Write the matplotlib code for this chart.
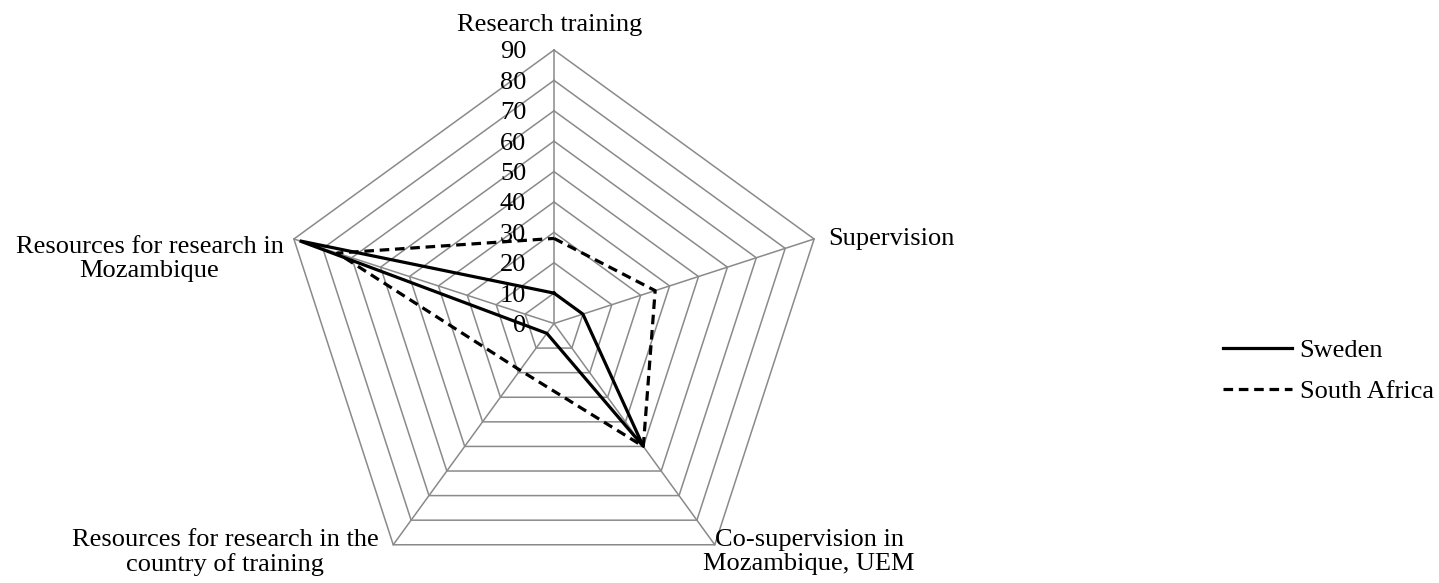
import numpy as np
import matplotlib
matplotlib.use("Agg")
import matplotlib.pyplot as plt

plt.rcParams['font.family'] = ['Liberation Serif', 'DejaVu Serif']
plt.rcParams['font.size'] = 19

categories = ["Research training", "Supervision", "Co-supervision in\nMozambique, UEM",
              "Resources for research in the\ncountry of training",
              "Resources for research in\nMozambique"]
sweden = [10, 10, 50, 4, 88]
south_africa = [28, 35, 50, 19, 75]
ring_values = [0, 10, 20, 30, 40, 50, 60, 70, 80, 90]
ring_labels = ["0", "10", "20", "30", "40", "50", "60", "70", "80", "90"]

W, H = 1439, 583
cx, cy = 554, 323.5          # centre of the web, pixels from top-left
px_per_unit = 273.5 / 90

fig = plt.figure(figsize=(W / 100, H / 100), dpi=100)
ax = fig.add_axes([0, 0, 1, 1])
ax.set_xlim(-cx / px_per_unit, (W - cx) / px_per_unit)
ax.set_ylim(-(H - cy) / px_per_unit, cy / px_per_unit)
ax.axis('off')

n = len(categories)
theta = 2 * np.pi * np.arange(n) / n   # clockwise from the top


def to_xy(vals):
    vals = np.asarray(vals, dtype=float)
    x = vals * np.sin(theta)
    y = vals * np.cos(theta)
    return np.append(x, x[0]), np.append(y, y[0])


grey = '#8a8a8a'
# pentagon rings
for v in ring_values[1:]:
    gx, gy = to_xy([v] * n)
    ax.plot(gx, gy, color=grey, lw=1.1, zorder=1)
# spokes
for t in theta:
    ax.plot([0, 90 * np.sin(t)], [0, 90 * np.cos(t)], color=grey, lw=1.1, zorder=1)

# ring values along the top spoke
for v, lab in zip(ring_values, ring_labels):
    ax.annotate(lab, xy=(0, v), xytext=(-20, 0), textcoords='offset points',
                ha='right', va='center_baseline', zorder=2)

# series
ax.plot(*to_xy(sweden), color='black', lw=2.3, solid_joinstyle='miter',
        label='Sweden', zorder=4)
ax.plot(*to_xy(south_africa), color='black', lw=2.3, linestyle=(0, (3, 1.8)),
        label='South Africa', zorder=3)

# category names around the web
offsets = [((-3, 10), 'center', 'bottom'),
           ((10, 0), 'left', 'center'),
           ((68, 11), 'center', 'top'),
           ((-121, 11), 'center', 'top'),
           ((-104, 2), 'center', 'top')]
for t, name, (off, ha, va) in zip(theta, categories, offsets):
    ax.annotate(name, xy=(90 * np.sin(t), 90 * np.cos(t)), xytext=off,
                textcoords='offset points', ha=ha, va=va,
                multialignment='center', linespacing=1.08)

ax.legend(loc='center left', bbox_to_anchor=(1223 / W, 1 - 371 / H),
          bbox_transform=fig.transFigure, frameon=False,
          handlelength=2.6, handletextpad=0.3, labelspacing=0.66,
          borderpad=0, borderaxespad=0)

fig.savefig('out.png', dpi=100)
